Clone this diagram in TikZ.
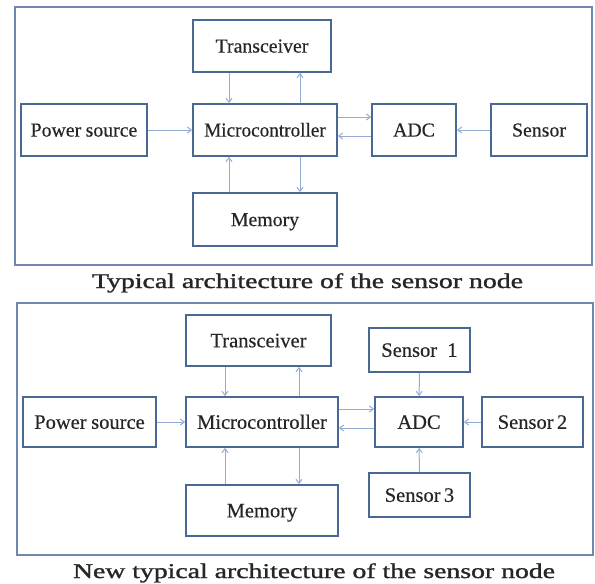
\documentclass[tikz,border=0pt]{standalone}
\usepackage{fontspec}
\setmainfont{Liberation Serif}
\newfontfamily\boxfont{Liberation Serif}[FakeBold=0.35]
\newfontfamily\capfont{Liberation Serif}[FakeBold=1.1]
\usetikzlibrary{arrows.meta}
\definecolor{boxline}{HTML}{4A6894}
\definecolor{frameline}{HTML}{6F89AE}
\definecolor{arrline}{HTML}{93ACD3}
\definecolor{inktext}{HTML}{262626}
\tikzset{
  unit/.style={draw=boxline, line width=1.8pt, fill=white, inner sep=0pt, align=center,
    text=inktext, text depth=0pt},
  unitA/.style={unit, text height=13.1pt, font=\boxfont\fontsize{19.8}{21}\selectfont},
  unitB/.style={unit, text height=13.6pt, font=\boxfont\fontsize{20.5}{22}\selectfont},
  frame/.style={draw=frameline, line width=1.8pt},
  arr/.style={draw=arrline, line width=1pt, -{Straight Barb[length=4pt,width=6pt]}},
  caption/.style={anchor=base, inner sep=0pt, text=inktext, font=\capfont\fontsize{21}{24}\selectfont}
}
\begin{document}
\begin{tikzpicture}[x=1pt, y=-1pt]
\useasboundingbox (0,0) rectangle (595,584);

% ---------- typical sensor node ----------
\draw[frame] (15,7) rectangle (592,265);
\node[unitA, minimum width=126pt, minimum height=52pt] (pow) at (84,130) {Power\kern-0.5pt\ source};
\node[unitA, minimum width=144pt, minimum height=52pt] (mc) at (265,130) {\scalebox{0.97}[1]{Microcontroller}};
\node[unitA, minimum width=138pt, minimum height=52pt] (tr) at (262,46) {Transceiver};
\node[unitA, minimum width=144pt, minimum height=53pt] (mem) at (265,219.5) {Memory};
\node[unitA, minimum width=84pt, minimum height=52pt] (adc) at (414,130) {ADC};
\node[unitA, minimum width=96pt, minimum height=52pt] (sen) at (539,130) {Sensor};

\draw[arr] (tr.south -| 229,0) -- (mc.north -| 229,0);
\draw[arr] (mc.north -| 300,0) -- (tr.south -| 300,0);
\draw[arr] (mem.north -| 229,0) -- (mc.south -| 229,0);
\draw[arr] (mc.south -| 300,0) -- (mem.north -| 300,0);
\draw[arr] (mc.east |- 0,117) -- (adc.west |- 0,117);
\draw[arr] (adc.west |- 0,136) -- (mc.east |- 0,136);
\draw[arr] (pow) -- (mc);
\draw[arr] (sen) -- (adc);

\node[caption] (cap1) at (307.5,288) {\resizebox{431pt}{\height}{Typical architecture of the sensor node}};

% ---------- sensor node with three sensors ----------
\draw[frame] (17,303) rectangle (593,555);
\node[unitB, minimum width=133pt, minimum height=50pt] (pow2) at (89.5,422) {Power\kern-0.5pt\ source};
\node[unitB, minimum width=152pt, minimum height=50pt] (mc2) at (262,422) {Microcontroller};
\node[unitB, minimum width=145pt, minimum height=51pt] (tr2) at (258.5,340.5) {Transceiver};
\node[unitB, minimum width=152pt, minimum height=51pt] (mem2) at (262,510.5) {Memory};
\node[unitB, minimum width=88pt, minimum height=50pt] (adc2) at (419,422) {ADC};
\node[unitB, minimum width=101pt, minimum height=44pt] (s1) at (419.5,350) {Sensor\enspace1};
\node[unitB, minimum width=101pt, minimum height=50pt] (s2) at (532.5,422) {Sensor\,2};
\node[unitB, minimum width=101pt, minimum height=44pt] (s3) at (419.5,495) {Sensor\,3};

\draw[arr] (tr2.south -| 225,0) -- (mc2.north -| 225,0);
\draw[arr] (mc2.north -| 299,0) -- (tr2.south -| 299,0);
\draw[arr] (mem2.north -| 225,0) -- (mc2.south -| 225,0);
\draw[arr] (mc2.south -| 299,0) -- (mem2.north -| 299,0);
\draw[arr] (mc2.east |- 0,409) -- (adc2.west |- 0,409);
\draw[arr] (adc2.west |- 0,428) -- (mc2.east |- 0,428);
\draw[arr] (pow2) -- (mc2);
\draw[arr] (s2) -- (adc2);
\draw[arr] (s1) -- (adc2);
\draw[arr] (s3) -- (adc2);

\node[caption] (cap2) at (314,578) {\resizebox{482pt}{\height}{New typical architecture of the sensor node}};
\end{tikzpicture}
\end{document}
